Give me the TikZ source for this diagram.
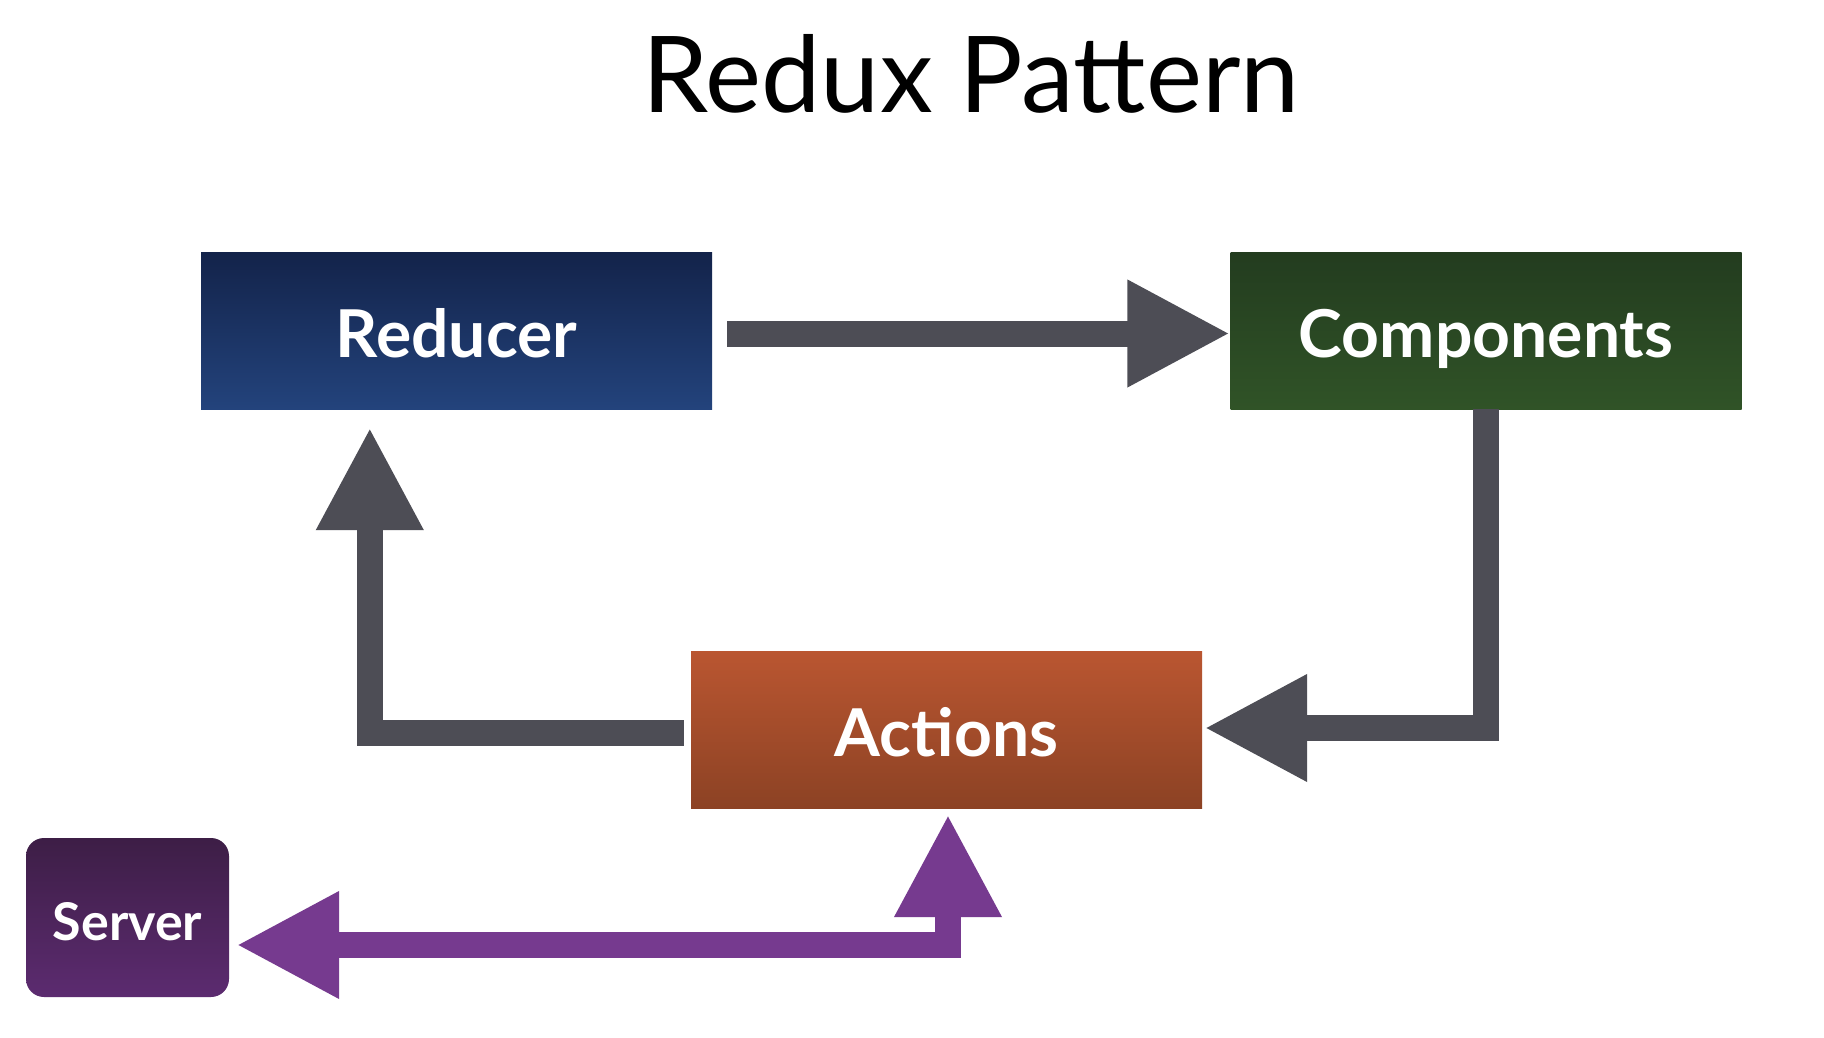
\documentclass[tikz,border=0pt]{standalone}
\usepackage{fontspec}
\setmainfont{Lato}
\usetikzlibrary{arrows.meta,calc}
\definecolor{arrowgrey}{HTML}{4D4D55}
\definecolor{arrowpurple}{HTML}{763A8F}
\definecolor{redtop}{HTML}{13234A}
\definecolor{redbot}{HTML}{23437C}
\definecolor{comptop}{HTML}{233C1F}
\definecolor{compbot}{HTML}{305327}
\definecolor{acttop}{HTML}{BA5631}
\definecolor{actbot}{HTML}{8C4224}
\definecolor{servtop}{HTML}{3D1E46}
\definecolor{servbot}{HTML}{5C2B70}
\tikzset{
  block/.style={minimum width=511pt, minimum height=157pt, inner sep=0pt,
    text height=60pt, text depth=7pt,
    text=white, font=\fontsize{66}{70}\selectfont\bfseries},
  flow/.style={line width=26pt, line join=miter, line cap=butt,
    -{Triangle[length=103pt,width=100pt]}},
  twoway/.style={line width=26pt, line join=miter, line cap=butt,
    {Triangle[length=103pt,width=100pt]}-{Triangle[length=103pt,width=100pt]}},
}
\begin{document}
\begin{tikzpicture}[x=1pt,y=-1pt]
  \useasboundingbox[fill=white] (0,0) rectangle (1824,1038);

  % heading
  \node[anchor=base, inner sep=0pt, font=\fontsize{106}{110}\selectfont] (title) at (971,113) {Redux Pattern};

  % the four stages
  \node[block, top color=redtop, bottom color=redbot] (reducer) at (456.5,330.5) {Reducer};
  \node[block, top color=comptop, bottom color=compbot] (comp) at (1486,330.5) {Components};
  \node[block, top color=acttop, bottom color=actbot] (act) at (946.5,729.5) {Actions};
  \node[minimum width=203pt, minimum height=159pt, inner sep=0pt, rounded corners=18pt,
    text height=50pt, text depth=5pt,
    top color=servtop, bottom color=servbot, text=white,
    font=\fontsize{52}{56}\selectfont\bfseries] (server) at (127.5,917.5) {Server};

  % loop endpoints
  \coordinate (rstart) at ($(reducer.east)+(15,3)$);
  \coordinate (ctip) at ($(comp.west)+(0,3)$);
  \coordinate (astart) at ($(act.west)+(-7,3)$);
  \coordinate (rtip) at ($(reducer.south west)+(169,18)$);
  \coordinate (stip) at ($(server.east)+(7,27.5)$);
  \coordinate (atip) at ($(act.south)+(1.5,6)$);

  % grey cycle
  \draw[flow, arrowgrey] (rstart) -- (ctip);
  \draw[flow, arrowgrey] (comp.south) |- ($(act.east)+(2,-1.5)$);
  \draw[flow, arrowgrey] (astart) -| (rtip);

  % server exchange
  \draw[twoway, arrowpurple] (stip) -| (atip);
\end{tikzpicture}
\end{document}
